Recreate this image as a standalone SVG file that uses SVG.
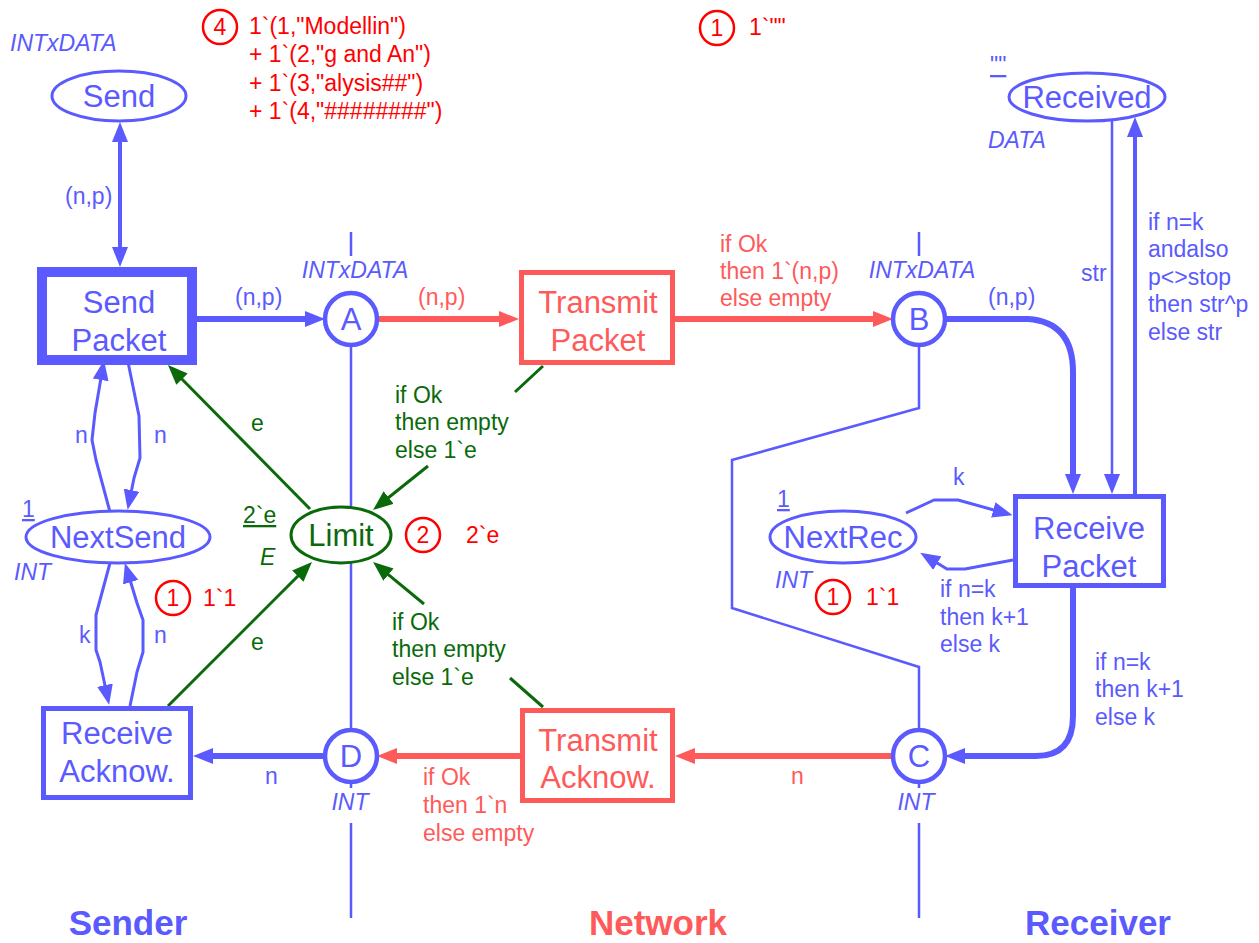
<svg xmlns="http://www.w3.org/2000/svg" width="1259" height="943" viewBox="0 0 1259 943">
<style>
text{font-family:"Liberation Sans",Arial,sans-serif}
.nt{font-size:31px;text-anchor:middle}
.lb{font-size:23px}
.mid{text-anchor:middle}
.it{font-style:italic}
.ul{text-decoration:underline}
.bt{fill:#5a5aff}
.rt{fill:#ff5a5a}
.gt{fill:#0a6a0a}
.kt{fill:#ff0000}
.pb{fill:#fff;stroke:#5a5aff;stroke-width:3}
.pc{fill:#fff;stroke:#5a5aff;stroke-width:4.5}
.pg{fill:#fff;stroke:#0a6a0a;stroke-width:3}
.tb{fill:#fff;stroke:#5a5aff;stroke-width:5}
.tr{fill:#fff;stroke:#ff5a5a;stroke-width:5}
.tok{fill:none;stroke:#ff0000;stroke-width:2.5}
.cb{fill:none;stroke:#5a5aff;stroke-linejoin:round}
.cr{fill:none;stroke:#ff5a5a}
.cg{fill:none;stroke:#0a6a0a;stroke-width:3}
.bd{fill:none;stroke:#5a5aff;stroke-width:2.5}
.head{font-size:35px;font-weight:bold;text-anchor:middle}
</style>
<defs>
<marker id="mb" viewBox="0 0 20 16" refX="8" refY="8" markerWidth="20" markerHeight="16" markerUnits="userSpaceOnUse" orient="auto-start-reverse"><path d="M0,0L20,8L0,16z" fill="#5a5aff"/></marker>
<marker id="mr" viewBox="0 0 20 16" refX="8" refY="8" markerWidth="20" markerHeight="16" markerUnits="userSpaceOnUse" orient="auto"><path d="M0,0L20,8L0,16z" fill="#ff5a5a"/></marker>
<marker id="mg" viewBox="0 0 20 16" refX="8" refY="8" markerWidth="20" markerHeight="16" markerUnits="userSpaceOnUse" orient="auto"><path d="M0,0L20,8L0,16z" fill="#0a6a0a"/></marker>
</defs>
<rect width="1259" height="943" fill="#fff"/>

<g id="boundaries">
<path class="bd" d="M351,232V256M351,346V731M351,782V788M351,823V918"/>
<path class="bd" d="M919,232V256M919,346V408L732,460V608L919,667V731M919,782V788M919,823V918"/>
</g>

<g id="connectors">
<!-- Send <-> Send Packet -->
<path class="cb" stroke-width="4" d="M120,134V255" marker-start="url(#mb)" marker-end="url(#mb)"/>
<text class="lb bt" x="65" y="204">(n,p)</text>
<!-- Send Packet -> A -->
<path class="cb" stroke-width="6" d="M197,319H313" marker-end="url(#mb)"/>
<text class="lb bt" x="235" y="305">(n,p)</text>
<!-- A -> Transmit Packet -->
<path class="cr" stroke-width="6" d="M377,319H507" marker-end="url(#mr)"/>
<text class="lb rt" x="418" y="305">(n,p)</text>
<!-- Transmit Packet -> B -->
<path class="cr" stroke-width="6" d="M675,319H881" marker-end="url(#mr)"/>
<text class="lb rt" x="720" y="252">if Ok</text>
<text class="lb rt" x="720" y="279">then 1`(n,p)</text>
<text class="lb rt" x="720" y="306">else empty</text>
<!-- B -> Receive Packet -->
<path class="cb" stroke-width="6" d="M946,319H1028Q1073,322 1073,372V482" marker-end="url(#mb)"/>
<text class="lb bt" x="988" y="305">(n,p)</text>
<!-- Received -> Receive Packet -->
<path class="cb" stroke-width="2.5" d="M1112,120V482" marker-end="url(#mb)"/>
<text class="lb bt" x="1081" y="281">str</text>
<!-- Receive Packet -> Received -->
<path class="cb" stroke-width="4" d="M1135,494V129" marker-end="url(#mb)"/>
<text class="lb bt" x="1148" y="230">if n=k</text>
<text class="lb bt" x="1148" y="257">andalso</text>
<text class="lb bt" x="1148" y="285">p&lt;&gt;stop</text>
<text class="lb bt" x="1148" y="312">then str^p</text>
<text class="lb bt" x="1148" y="340">else str</text>
<!-- NextRec -> Receive Packet -->
<path class="cb" stroke-width="3" d="M906,513L934,500H958L1001,512" marker-end="url(#mb)"/>
<text class="lb bt" x="953" y="485">k</text>
<!-- Receive Packet -> NextRec -->
<path class="cb" stroke-width="3" d="M1013,560L965,569H947L930.5,559" marker-end="url(#mb)"/>
<text class="lb bt" x="940" y="597">if n=k</text>
<text class="lb bt" x="940" y="625">then k+1</text>
<text class="lb bt" x="940" y="652">else k</text>
<!-- Receive Packet -> C -->
<path class="cb" stroke-width="6" d="M1073,588V716Q1073,756 1036,756H957" marker-end="url(#mb)"/>
<text class="lb bt" x="1095" y="670">if n=k</text>
<text class="lb bt" x="1095" y="697">then k+1</text>
<text class="lb bt" x="1095" y="725">else k</text>
<!-- C -> Transmit Acknow -->
<path class="cr" stroke-width="6" d="M893,756H687" marker-end="url(#mr)"/>
<text class="lb rt" x="791" y="784">n</text>
<!-- Transmit Acknow -> D -->
<path class="cr" stroke-width="6" d="M520,756H389" marker-end="url(#mr)"/>
<text class="lb rt" x="423" y="785">if Ok</text>
<text class="lb rt" x="423" y="813">then 1`n</text>
<text class="lb rt" x="423" y="841">else empty</text>
<!-- D -> Receive Acknow -->
<path class="cb" stroke-width="6" d="M325,756H205" marker-end="url(#mb)"/>
<text class="lb bt" x="265" y="784">n</text>
<!-- NextSend -> Send Packet -->
<path class="cb" stroke-width="3" d="M110,512L96,460L92,440L95,413L102,372" marker-end="url(#mb)"/>
<text class="lb bt" x="75" y="443">n</text>
<!-- Send Packet -> NextSend -->
<path class="cb" stroke-width="3" d="M128,362L139,416L140,458L134,478L130,498" marker-end="url(#mb)"/>
<text class="lb bt" x="154" y="443">n</text>
<!-- NextSend -> Receive Acknow -->
<path class="cb" stroke-width="3" d="M110,563L100,600L96,615V650L100,662L106.6,693" marker-end="url(#mb)"/>
<text class="lb bt" x="79" y="643">k</text>
<!-- Receive Acknow -> NextSend -->
<path class="cb" stroke-width="3" d="M130,706L137,672L143,652V620L137,603L128.4,574.5" marker-end="url(#mb)"/>
<text class="lb bt" x="154" y="643">n</text>
<!-- Limit -> Send Packet -->
<path class="cg" d="M310,509L176.4,373.5" marker-end="url(#mg)"/>
<text class="lb gt" x="251" y="431">e</text>
<!-- Transmit Packet -> Limit -->
<path class="cg" d="M543,366L515,392"/>
<path class="cg" d="M428,466L382.4,502.5" marker-end="url(#mg)"/>
<text class="lb gt" x="395" y="403">if Ok</text>
<text class="lb gt" x="395" y="430">then empty</text>
<text class="lb gt" x="395" y="458">else 1`e</text>
<!-- Receive Acknow -> Limit -->
<path class="cg" d="M168,706L303.5,570.5" marker-end="url(#mg)"/>
<text class="lb gt" x="251" y="650">e</text>
<!-- Transmit Acknow -> Limit -->
<path class="cg" d="M543,707L510,678"/>
<path class="cg" d="M424,604L382.3,569.6" marker-end="url(#mg)"/>
<text class="lb gt" x="392" y="630">if Ok</text>
<text class="lb gt" x="392" y="657">then empty</text>
<text class="lb gt" x="392" y="685">else 1`e</text>
</g>

<g id="Send">
<ellipse class="pb" cx="119" cy="96" rx="67" ry="25"/>
<text class="nt bt" x="119" y="107">Send</text>
<text class="lb bt it" x="10" y="51">INTxDATA</text>
<circle class="tok" cx="220" cy="27" r="17"/>
<text class="lb kt mid" x="220" y="35">4</text>
<text class="lb kt" x="249" y="34">1`(1,"Modellin")</text>
<text class="lb kt" x="249" y="62">+ 1`(2,"g and An")</text>
<text class="lb kt" x="249" y="91">+ 1`(3,"alysis##")</text>
<text class="lb kt" x="249" y="119">+ 1`(4,"########")</text>
</g>

<g id="Received">
<ellipse class="pb" cx="1087" cy="97" rx="78" ry="24"/>
<text class="nt bt" x="1087" y="108">Received</text>
<text class="lb bt ul" x="990" y="73">""</text>
<text class="lb bt it" x="988" y="148">DATA</text>
<circle class="tok" cx="717" cy="28" r="17"/>
<text class="lb kt mid" x="717" y="36">1</text>
<text class="lb kt" x="749" y="35">1`""</text>
</g>

<g id="SendPacket">
<rect x="42" y="272" width="150" height="88" fill="#fff" stroke="#5a5aff" stroke-width="10"/>
<text class="nt bt" x="119" y="313">Send</text>
<text class="nt bt" x="119" y="351">Packet</text>
</g>

<g id="A">
<circle class="pc" cx="351" cy="319" r="26"/>
<text class="nt bt" x="351" y="330">A</text>
<text class="lb bt it mid" x="355" y="278">INTxDATA</text>
</g>

<g id="TransmitPacket">
<rect class="tr" x="521.5" y="272.5" width="151" height="90"/>
<text class="nt rt" x="598" y="313">Transmit</text>
<text class="nt rt" x="598" y="351">Packet</text>
</g>

<g id="B">
<circle class="pc" cx="919" cy="319" r="26"/>
<text class="nt bt" x="919" y="330">B</text>
<text class="lb bt it mid" x="922" y="278">INTxDATA</text>
</g>

<g id="ReceivePacket">
<rect class="tb" x="1015.5" y="496.5" width="148" height="89"/>
<text class="nt bt" x="1089" y="539">Receive</text>
<text class="nt bt" x="1089" y="577">Packet</text>
</g>

<g id="NextRec">
<ellipse class="pb" cx="843" cy="537" rx="73" ry="26"/>
<text class="nt bt" x="843" y="548">NextRec</text>
<text class="lb bt ul" x="777" y="507">1</text>
<text class="lb bt it" x="775" y="588">INT</text>
<circle class="tok" cx="833" cy="597" r="17"/>
<text class="lb kt mid" x="833" y="605">1</text>
<text class="lb kt" x="866" y="605">1`1</text>
</g>

<g id="NextSend">
<ellipse class="pb" cx="118" cy="537" rx="92" ry="26"/>
<text class="nt bt" x="118" y="548">NextSend</text>
<text class="lb bt ul" x="22" y="517">1</text>
<text class="lb bt it" x="14" y="580">INT</text>
<circle class="tok" cx="173" cy="598" r="17"/>
<text class="lb kt mid" x="173" y="606">1</text>
<text class="lb kt" x="203" y="606">1`1</text>
</g>

<g id="Limit">
<ellipse class="pg" cx="341" cy="535" rx="50" ry="28"/>
<text class="nt gt" x="341" y="546">Limit</text>
<text class="lb gt ul" x="243" y="523">2`e</text>
<text class="lb gt it" x="260" y="565">E</text>
<circle class="tok" cx="423" cy="535" r="17"/>
<text class="lb kt mid" x="423" y="543">2</text>
<text class="lb kt" x="466" y="543">2`e</text>
</g>

<g id="ReceiveAcknow">
<rect class="tb" x="43.5" y="708.5" width="147" height="89"/>
<text class="nt bt" x="117" y="744">Receive</text>
<text class="nt bt" x="117" y="782">Acknow.</text>
</g>

<g id="D">
<circle class="pc" cx="351" cy="756" r="26"/>
<text class="nt bt" x="351" y="767">D</text>
<text class="lb bt it mid" x="350" y="810">INT</text>
</g>

<g id="TransmitAcknow">
<rect class="tr" x="522.5" y="710.5" width="150" height="90"/>
<text class="nt rt" x="598" y="751">Transmit</text>
<text class="nt rt" x="598" y="788">Acknow.</text>
</g>

<g id="C">
<circle class="pc" cx="919" cy="756" r="26"/>
<text class="nt bt" x="919" y="767">C</text>
<text class="lb bt it mid" x="916" y="810">INT</text>
</g>

<g id="headings">
<text class="head bt" x="128" y="935">Sender</text>
<text class="head rt" x="658" y="935">Network</text>
<text class="head bt" x="1098" y="935">Receiver</text>
</g>
</svg>
